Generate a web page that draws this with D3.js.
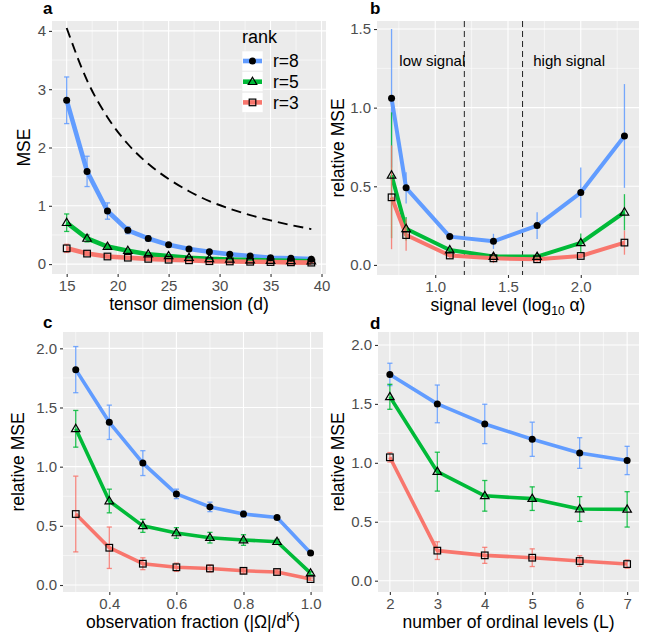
<!DOCTYPE html>
<html><head><meta charset="utf-8">
<script src="https://cdn.jsdelivr.net/npm/d3@7"></script>
<style>
body{margin:0;background:#fff;}
text{font-family:"Liberation Sans",Arial,Helvetica,sans-serif;}
</style></head>
<body><svg id="chart" width="645" height="638"></svg>
<script>
// ---------- DATA ----------
const rankLabels = ["r=8", "r=5", "r=3"];
const rankColors = ["#619CFF", "#00BA38", "#F8766D"];
const rankShapes = ["circle", "triangle", "square"];

// panel a: tensor dimension
const dimA = [15, 17, 19, 21, 23, 25, 27, 29, 31, 33, 35, 37, 39];
const mseA_r8 = [2.81, 1.59, 0.91, 0.58, 0.44, 0.33, 0.26, 0.21, 0.17, 0.14, 0.11, 0.10, 0.085];
const mseA_r5 = [0.71, 0.44, 0.30, 0.23, 0.17, 0.14, 0.11, 0.09, 0.08, 0.07, 0.06, 0.055, 0.05];
const mseA_r3 = [0.27, 0.18, 0.13, 0.11, 0.09, 0.075, 0.065, 0.05, 0.045, 0.04, 0.035, 0.03, 0.025];
const errA_r8 = [0.40, 0.26, 0.14, 0.06, 0.045, 0.025, 0.02, 0.015, 0.012, 0.01, 0.01, 0.008, 0.008];
const errA_r5 = [0.15, 0.06, 0.03, 0.025, 0.02, 0.015, 0.012, 0.01, 0.01, 0.008, 0.008, 0.006, 0.006];
const errA_r3 = [0.07, 0.03, 0.02, 0.015, 0.012, 0.01, 0.008, 0.008, 0.006, 0.006, 0.005, 0.005, 0.005];
const boundA = [4.05, 3.15, 2.52, 2.06, 1.72, 1.46, 1.25, 1.08, 0.95, 0.84, 0.75, 0.67, 0.60];

// panel b: signal level
const sigB = [0.7, 0.8, 1.1, 1.4, 1.7, 2.0, 2.3];
const mseB_r8 = [1.06, 0.49, 0.18, 0.15, 0.25, 0.46, 0.82];
const mseB_r5 = [0.57, 0.23, 0.095, 0.053, 0.053, 0.14, 0.335];
const mseB_r3 = [0.43, 0.19, 0.06, 0.042, 0.036, 0.057, 0.142];
const errB_r8 = [0.44, 0.10, 0.025, 0.048, 0.085, 0.16, 0.33];
const errB_r5 = [0.40, 0.075, 0.02, 0.02, 0.02, 0.06, 0.115];
const errB_r3 = [0.33, 0.10, 0.015, 0.03, 0.015, 0.015, 0.077];
const cutB = [1.2, 1.6];
const regionLabelsB = ["low signal", "high signal"];
const regionXB = [0.98, 1.92];

// panel c: observation fraction
const fracC = [0.3, 0.4, 0.5, 0.6, 0.7, 0.8, 0.9, 1.0];
const mseC_r8 = [1.82, 1.375, 1.03, 0.77, 0.66, 0.60, 0.57, 0.27];
const mseC_r5 = [1.32, 0.71, 0.50, 0.44, 0.40, 0.38, 0.366, 0.10];
const mseC_r3 = [0.60, 0.315, 0.18, 0.15, 0.14, 0.12, 0.11, 0.05];
const errC_r8 = [0.195, 0.145, 0.105, 0.04, 0.04, 0.025, 0.012, 0.01];
const errC_r5 = [0.155, 0.10, 0.055, 0.045, 0.045, 0.045, 0.02, 0.012];
const errC_r3 = [0.32, 0.175, 0.05, 0.035, 0.03, 0.022, 0.018, 0.01];

// panel d: ordinal levels
const levD = [2, 3, 4, 5, 6, 7];
const mseD_r8 = [1.75, 1.50, 1.33, 1.20, 1.083, 1.02];
const mseD_r5 = [1.56, 0.925, 0.72, 0.696, 0.608, 0.605];
const mseD_r3 = [1.047, 0.255, 0.215, 0.195, 0.167, 0.141];
const errD_r8 = [0.095, 0.16, 0.167, 0.145, 0.13, 0.12];
const errD_r5 = [0.106, 0.165, 0.13, 0.10, 0.105, 0.15];
const errD_r3 = [0.04, 0.075, 0.068, 0.075, 0.045, 0.035];

// tick labels
const ticksAx = [15, 20, 25, 30, 35, 40], ticksAy = [0, 1, 2, 3, 4];
const ticksBx = [1.0, 1.5, 2.0], ticksBy = [0, 0.5, 1.0, 1.5];
const ticksCx = [0.4, 0.6, 0.8, 1.0], ticksCy = [0, 0.5, 1.0, 1.5, 2.0];
const ticksDx = [2, 3, 4, 5, 6, 7], ticksDy = [0, 0.5, 1.0, 1.5, 2.0];

// ---------- DRAWING ----------
const svg = d3.select("#chart");
svg.append("rect").attr("width", 645).attr("height", 638).attr("fill", "#fff");

function minorBetween(ticks, domain) {
  const step = ticks[1] - ticks[0];
  const out = [];
  for (let v = ticks[0] - step / 2; v <= ticks[ticks.length - 1] + step / 2 + 1e-9; v += step) {
    const r = Math.round(v * 1000) / 1000;
    if (r > domain[0] && r < domain[1]) out.push(r);
  }
  return out;
}

function drawShape(g, shape, x, y, color) {
  if (shape === "circle") {
    g.append("circle").attr("cx", x).attr("cy", y).attr("r", 3.5).attr("fill", "#000");
  } else if (shape === "triangle") {
    const s = 4.5;
    g.append("path").attr("d", `M${x},${y - s}L${x + s * 0.95},${y + s * 0.62}L${x - s * 0.95},${y + s * 0.62}Z`)
      .attr("fill", "none").attr("stroke", "#000").attr("stroke-width", 1.2);
  } else {
    const s = 3.3;
    g.append("rect").attr("x", x - s).attr("y", y - s).attr("width", 2 * s).attr("height", 2 * s)
      .attr("fill", "none").attr("stroke", "#000").attr("stroke-width", 1.2);
  }
}

function fmt1(v) { return d3.format(".1f")(v); }

function panel(cfg) {
  const g = svg.append("g");
  const x = d3.scaleLinear().domain(cfg.xdom).range([cfg.x0, cfg.x1]);
  const y = d3.scaleLinear().domain(cfg.ydom).range([cfg.y1, cfg.y0]);
  g.append("rect").attr("x", cfg.x0).attr("y", cfg.y0).attr("width", cfg.x1 - cfg.x0)
    .attr("height", cfg.y1 - cfg.y0).attr("fill", "#EBEBEB");
  // minor grid
  minorBetween(cfg.xticks, cfg.xdom).forEach(v => g.append("line").attr("x1", x(v)).attr("x2", x(v))
    .attr("y1", cfg.y0).attr("y2", cfg.y1).attr("stroke", "#fff").attr("stroke-width", 0.55));
  minorBetween(cfg.yticks, cfg.ydom).forEach(v => g.append("line").attr("y1", y(v)).attr("y2", y(v))
    .attr("x1", cfg.x0).attr("x2", cfg.x1).attr("stroke", "#fff").attr("stroke-width", 0.55));
  // major grid
  cfg.xticks.forEach(v => g.append("line").attr("x1", x(v)).attr("x2", x(v))
    .attr("y1", cfg.y0).attr("y2", cfg.y1).attr("stroke", "#fff").attr("stroke-width", 1.1));
  cfg.yticks.forEach(v => g.append("line").attr("y1", y(v)).attr("y2", y(v))
    .attr("x1", cfg.x0).attr("x2", cfg.x1).attr("stroke", "#fff").attr("stroke-width", 1.1));

  // axes
  const xa = g.append("g").attr("transform", `translate(0,${cfg.y1})`)
    .call(d3.axisBottom(x).tickValues(cfg.xticks).tickSize(3).tickPadding(3).tickFormat(cfg.xfmt));
  const ya = g.append("g").attr("transform", `translate(${cfg.x0},0)`)
    .call(d3.axisLeft(y).tickValues(cfg.yticks).tickSize(3).tickPadding(3).tickFormat(cfg.yfmt));
  [xa, ya].forEach(a => {
    a.select(".domain").remove();
    a.selectAll(".tick line").attr("stroke", "#333").attr("stroke-width", 1.1);
    a.selectAll(".tick text").attr("fill", "#4D4D4D").attr("font-size", 15)
      .attr("font-family", '"Liberation Sans",Arial,sans-serif');
  });

  if (cfg.extra) cfg.extra(g, x, y);

  const series = cfg.series;
  const line = d3.line().x(d => x(d[0])).y(d => y(d[1]));
  series.forEach((s, i) => {
    g.append("path").datum(cfg.xs.map((xv, j) => [xv, s.v[j]])).attr("d", line)
      .attr("fill", "none").attr("stroke", rankColors[i]).attr("stroke-width", cfg.lw)
      .attr("stroke-linejoin", "round");
  });
  series.forEach((s, i) => {
    cfg.xs.forEach((xv, j) => {
      const lo = y(s.v[j] - s.e[j]), hi = y(s.v[j] + s.e[j]), cx = x(xv);
      g.append("line").attr("x1", cx).attr("x2", cx).attr("y1", lo).attr("y2", hi)
        .attr("stroke", rankColors[i]).attr("stroke-width", 1.3).attr("opacity", 0.85);
      if (cfg.cap) {
        [lo, hi].forEach(yy => g.append("line").attr("x1", cx - cfg.cap).attr("x2", cx + cfg.cap)
          .attr("y1", yy).attr("y2", yy).attr("stroke", rankColors[i]).attr("stroke-width", 1.3).attr("opacity", 0.85));
      }
    });
  });
  series.forEach((s, i) => {
    cfg.xs.forEach((xv, j) => drawShape(g, rankShapes[i], x(xv), y(s.v[j]), rankColors[i]));
  });

  // titles
  const xt = g.append("text").attr("x", (cfg.x0 + cfg.x1) / 2).attr("y", cfg.y1 + 36)
    .attr("text-anchor", "middle").attr("font-size", 17.5).attr("fill", "#000");
  cfg.xtitle(xt);
  g.append("text").attr("transform", `translate(${cfg.ytx},${(cfg.y0 + cfg.y1) / 2}) rotate(-90)`)
    .attr("text-anchor", "middle").attr("font-size", 17.5).attr("fill", "#000").text(cfg.ytitle);
  g.append("text").attr("x", cfg.lx).attr("y", cfg.ly).attr("font-size", 17).attr("font-weight", "bold")
    .attr("fill", "#000").text(cfg.label);
  return { g, x, y };
}

// Panel a
const pa = panel({
  label: "a", lx: 43, ly: 14,
  x0: 52, x1: 326, y0: 21, y1: 274,
  xdom: [13.56, 40.44], ydom: [-0.17, 4.17],
  xticks: ticksAx, yticks: ticksAy, xfmt: d3.format("d"), yfmt: d3.format("d"),
  xs: dimA, lw: 4.6, cap: 2.6,
  series: [{ v: mseA_r8, e: errA_r8 }, { v: mseA_r5, e: errA_r5 }, { v: mseA_r3, e: errA_r3 }],
  ytx: 30, ytitle: "MSE",
  xtitle: t => t.text("tensor dimension (d)"),
  extra: (g, x, y) => {
    g.append("path").datum(dimA.map((d, i) => [d, boundA[i]]))
      .attr("d", d3.line().curve(d3.curveMonotoneX).x(d => x(d[0])).y(d => y(d[1])))
      .attr("fill", "none").attr("stroke", "#000").attr("stroke-width", 1.9).attr("stroke-dasharray", "10,6");
  }
});
// legend in panel a
(function () {
  const g = pa.g;
  g.append("text").attr("x", 242).attr("y", 43).attr("font-size", 18).attr("fill", "#000").text("rank");
  rankLabels.forEach((lab, i) => {
    const cy = 61 + i * 20.7;
    g.append("rect").attr("x", 242).attr("y", cy - 10).attr("width", 21).attr("height", 20)
      .attr("fill", "#fff").attr("stroke", "#EBEBEB").attr("stroke-width", 0.6);
    g.append("line").attr("x1", 243).attr("x2", 262).attr("y1", cy).attr("y2", cy)
      .attr("stroke", rankColors[i]).attr("stroke-width", 4.6);
    drawShape(g, rankShapes[i], 252.5, cy, rankColors[i]);
    g.append("text").attr("x", 273).attr("y", cy + 6.3).attr("font-size", 17.5).attr("fill", "#000").text(lab);
  });
})();

// Panel b
panel({
  label: "b", lx: 370, ly: 14,
  x0: 377, x1: 639, y0: 21, y1: 275,
  xdom: [0.6, 2.4], ydom: [-0.064, 1.551],
  xticks: ticksBx, yticks: ticksBy, xfmt: fmt1, yfmt: fmt1,
  xs: sigB, lw: 4, cap: 0,
  series: [{ v: mseB_r8, e: errB_r8 }, { v: mseB_r5, e: errB_r5 }, { v: mseB_r3, e: errB_r3 }],
  ytx: 344, ytitle: "relative MSE",
  xtitle: t => {
    t.append("tspan").text("signal level (log");
    t.append("tspan").attr("font-size", 12).attr("dy", 4).text("10");
    t.append("tspan").attr("dy", -4).text(" \u03B1)");
  },
  extra: (g, x, y) => {
    cutB.forEach(c => g.append("line").attr("x1", x(c)).attr("x2", x(c)).attr("y1", 21).attr("y2", 275)
      .attr("stroke", "#222").attr("stroke-width", 1).attr("stroke-dasharray", "6,4"));
    regionLabelsB.forEach((lab, i) => g.append("text").attr("x", x(regionXB[i])).attr("y", y(1.3) + 5.5)
      .attr("text-anchor", "middle").attr("font-size", 15).attr("fill", "#000").text(lab));
  }
});

// Panel c
panel({
  label: "c", lx: 43, ly: 328,
  x0: 63, x1: 323, y0: 332, y1: 592,
  xdom: [0.262, 1.037], ydom: [-0.059, 2.138],
  xticks: ticksCx, yticks: ticksCy, xfmt: fmt1, yfmt: fmt1,
  xs: fracC, lw: 3.6, cap: 2.6,
  series: [{ v: mseC_r8, e: errC_r8 }, { v: mseC_r5, e: errC_r5 }, { v: mseC_r3, e: errC_r3 }],
  ytx: 24, ytitle: "relative MSE",
  xtitle: t => {
    t.append("tspan").text("observation fraction (|\u03A9|/d");
    t.append("tspan").attr("font-size", 12).attr("dy", -7).text("K");
    t.append("tspan").attr("dy", 7).text(")");
  }
});

// Panel d
panel({
  label: "d", lx: 370, ly: 329,
  x0: 378, x1: 639, y0: 332, y1: 592,
  xdom: [1.75, 7.25], ydom: [-0.096, 2.11],
  xticks: ticksDx, yticks: ticksDy, xfmt: d3.format("d"), yfmt: fmt1,
  xs: levD, lw: 3.6, cap: 2.6,
  series: [{ v: mseD_r8, e: errD_r8 }, { v: mseD_r5, e: errD_r5 }, { v: mseD_r3, e: errD_r3 }],
  ytx: 344, ytitle: "relative MSE",
  xtitle: t => t.text("number of ordinal levels (L)")
});
</script></body></html>
